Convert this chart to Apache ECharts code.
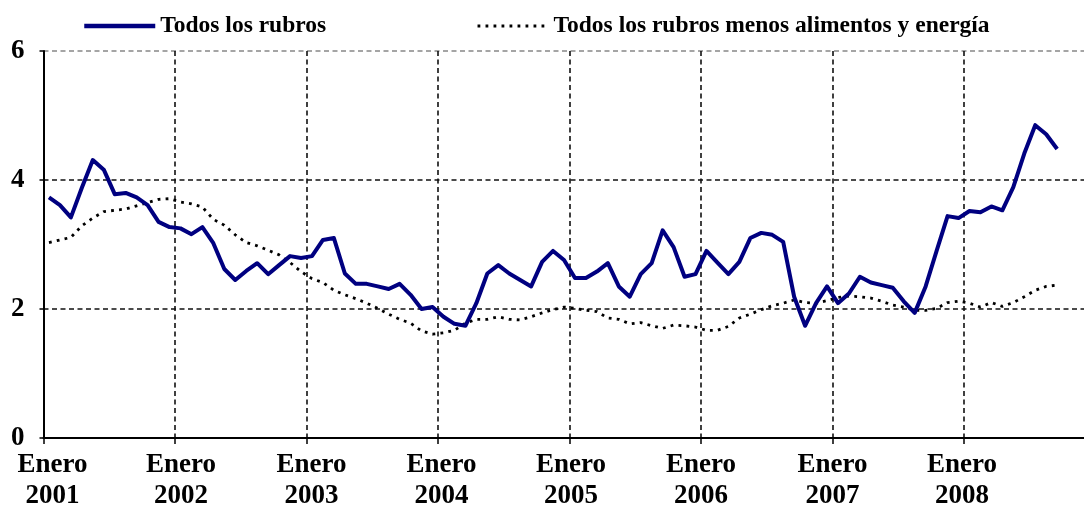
<!DOCTYPE html>
<html>
<head>
<meta charset="utf-8">
<script src="https://cdn.jsdelivr.net/npm/echarts@6/dist/echarts.min.js"></script>
<style>
html,body{margin:0;padding:0;background:#fff;}
#chart{width:1084px;height:508px;}
</style>
</head>
<body>
<div id="chart"></div>
<script>
// Tick labels
const monthLabel = 'Enero';
const years = ['2001','2002','2003','2004','2005','2006','2007','2008'];
const seriesNames = ['Todos los rubros', 'Todos los rubros menos alimentos y energía'];
const yTicks = [0, 2, 4, 6];

// Monthly values, Jan 2001 .. Sep 2008
const todos = [
  3.73,3.61,3.42,3.88,4.31,4.16,3.78,3.80,3.73,3.61,3.35,3.27,
  3.25,3.16,3.27,3.02,2.62,2.45,2.59,2.71,2.54,2.68,2.82,2.79,
  2.82,3.07,3.10,2.55,2.39,2.39,2.35,2.31,2.39,2.22,2.00,2.03,
  1.88,1.77,1.74,2.09,2.55,2.68,2.55,2.45,2.35,2.73,2.90,2.76,
  2.48,2.48,2.58,2.71,2.35,2.19,2.54,2.71,3.22,2.96,2.50,2.54,
  2.90,2.72,2.54,2.73,3.10,3.18,3.15,3.04,2.19,1.74,2.09,2.35,
  2.09,2.24,2.50,2.41,2.37,2.33,2.12,1.94,2.35,2.90,3.44,3.41,
  3.52,3.50,3.59,3.53,3.89,4.41,4.85,4.71,4.48
];
const core = [
  3.03,3.07,3.11,3.29,3.41,3.51,3.53,3.55,3.60,3.65,3.70,3.71,
  3.66,3.63,3.58,3.39,3.30,3.15,3.03,2.98,2.91,2.84,2.72,2.58,
  2.47,2.41,2.29,2.22,2.16,2.09,2.01,1.92,1.84,1.78,1.66,1.61,
  1.63,1.67,1.78,1.84,1.84,1.88,1.84,1.83,1.88,1.94,1.99,2.03,
  2.01,1.98,1.96,1.86,1.84,1.77,1.79,1.74,1.70,1.75,1.74,1.72,
  1.67,1.67,1.73,1.86,1.92,1.99,2.05,2.09,2.14,2.10,2.09,2.13,
  2.18,2.20,2.19,2.17,2.12,2.06,2.03,1.98,1.98,2.01,2.10,2.12,
  2.09,2.03,2.10,2.04,2.10,2.19,2.29,2.35,2.37
];

const serif = 'Liberation Serif, Times New Roman, serif';
const chart = echarts.init(document.getElementById('chart'), null, {renderer: 'canvas'});

// month index -> position at the middle of that month on the axis
const toPoints = arr => arr.map((v, i) => [i + 0.5, v]);

// small horizontal nudges of the year labels (pixels), as laid out in the original
const labelNudge = [9, 6, 5, 3.5, 1.5, 0, 0, -2];
const rich = {};
labelNudge.forEach((d, k) => {
  rich['y' + k] = {
    fontFamily: serif, fontWeight: 'bold', fontSize: 27, lineHeight: 31, color: '#000',
    padding: d >= 0 ? [0, 0, 0, 2 * d] : [0, -2 * d, 0, 0]
  };
});

const dotted = [2.8, 5.2];
const gridDash = [5, 3.5];

chart.setOption({
  animation: false,
  backgroundColor: '#fff',
  legend: {
    data: [
      {name: seriesNames[0], lineStyle: {width: 4.5, color: '#000080'}},
      {name: seriesNames[1], lineStyle: {width: 2.8, color: '#000', type: dotted}}
    ],
    left: 82,
    top: 14,
    padding: 0,
    itemWidth: 71,
    itemHeight: 14,
    itemGap: 150,
    itemStyle: {opacity: 0, color: 'rgba(0,0,0,0)', borderWidth: 0},
    textStyle: {fontFamily: serif, fontWeight: 'bold', fontSize: 23.5, color: '#000'}
  },
  grid: {
    left: 43.5,
    right: -11.5,
    top: 51,
    bottom: 70,
    containLabel: false,
    outerBoundsMode: 'none'
  },
  xAxis: {
    type: 'value',
    min: 0,
    max: years.length * 12,
    interval: 12,
    axisLine: {show: true, onZero: false, lineStyle: {color: '#000', width: 2}},
    axisTick: {show: true, length: 6, lineStyle: {color: '#000', width: 1.5}},
    axisLabel: {
      show: true,
      margin: 12,
      fontFamily: serif,
      fontWeight: 'bold',
      fontSize: 27,
      lineHeight: 31,
      color: '#000',
      rich: rich,
      formatter: function (v) {
        const k = Math.round(v / 12);
        if (v % 12 !== 0 || k >= years.length) return '';
        return '{y' + k + '|' + monthLabel + '}\n{y' + k + '|' + years[k] + '}';
      }
    },
    splitLine: {show: true, lineStyle: {color: '#111', width: 1.6, type: gridDash}}
  },
  yAxis: {
    type: 'value',
    min: yTicks[0],
    max: yTicks[yTicks.length - 1],
    interval: 2,
    axisLine: {show: true, lineStyle: {color: '#000', width: 2}},
    axisTick: {show: true, length: 4, lineStyle: {color: '#000', width: 1.5}},
    axisLabel: {
      margin: 19,
      fontFamily: serif,
      fontWeight: 'bold',
      fontSize: 27,
      color: '#000'
    },
    splitLine: {show: true, lineStyle: {color: ['#111', '#111', '#111', '#888'], width: 1.6, type: gridDash}}
  },
  series: [
    {
      name: seriesNames[0],
      type: 'line',
      data: toPoints(todos),
      symbol: 'none',
      z: 3,
      lineStyle: {color: '#000080', width: 4, join: 'round'},
      itemStyle: {color: '#000080'}
    },
    {
      name: seriesNames[1],
      type: 'line',
      data: toPoints(core),
      symbol: 'none',
      z: 2,
      lineStyle: {color: '#000', width: 2.8, type: dotted},
      itemStyle: {color: '#000'}
    }
  ]
});
</script>
</body>
</html>
